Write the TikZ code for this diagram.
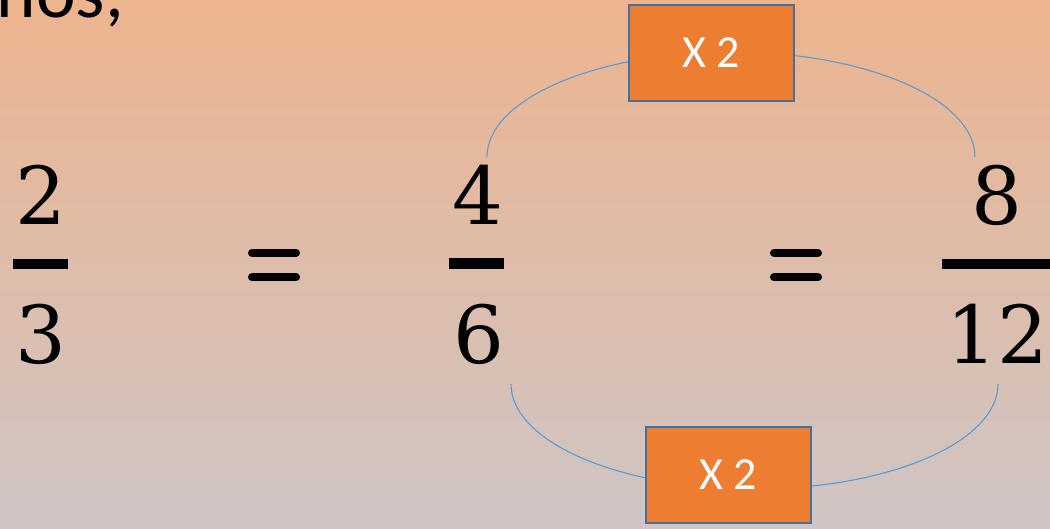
\documentclass[tikz,border=0pt]{standalone}
\usepackage{fontspec}
\newfontfamily\calib{Carlito}
\newfontfamily\numfont{DejaVu Serif}
\definecolor{bgtop}{RGB}{237,180,142}
\definecolor{bgbot}{RGB}{207,197,197}
\definecolor{boxfill}{HTML}{ED7D31}
\definecolor{boxline}{HTML}{41719C}
\definecolor{arcline}{HTML}{5B9BD5}
\tikzset{
  digit/.style={inner sep=0pt, anchor=base, font=\numfont\fontsize{80}{80}\selectfont},
  fracbar/.style={fill=black, draw=none},
  eqbar/.style={line width=8pt, line cap=round},
  timesbox/.style={draw=boxline, line width=2pt, fill=boxfill, minimum width=165pt, minimum height=96pt, inner sep=0pt, text=white, font=\calib\fontsize{46}{46}\selectfont},
  link/.style={draw=arcline, line width=1.1pt},
}
\begin{document}
\begin{tikzpicture}[x=1pt,y=-1pt]
\useasboundingbox (0,0) rectangle (1050,529);
\shade[top color=bgtop, bottom color=bgbot] (0,0) rectangle (1050,529);
% heading fragment
\node[inner sep=0pt, anchor=base east, font=\calib\fontsize{75}{75}\selectfont] (head) at (124,18) {nos,};
% fraction 2/3
\node[digit] (n1) at (41,225) {2};
\fill[fracbar] (13,259) rectangle (68,269);
\node[digit] (d1) at (41,364) {3};
% equals 1
\draw[eqbar] (252,253) -- (296,253);
\draw[eqbar] (252,277.5) -- (296,277.5);
% fraction 4/6
\node[digit] (n2) at (478,225) {4};
\fill[fracbar] (449,258) rectangle (504,269);
\node[digit] (d2) at (479,364) {6};
% equals 2
\draw[eqbar] (774,253) -- (818,253);
\draw[eqbar] (774,277.5) -- (818,277.5);
% fraction 8/12
\node[digit] (n3) at (997,225) {8};
\fill[fracbar] (942,259) rectangle (1052,269);
\node[digit] (d3) at (997.5,364) {12};
% arcs
\coordinate (a1) at (487,157);
\coordinate (a2) at (975,157);
\coordinate (b1) at (511,384);
\coordinate (b2) at (998,384);
\draw[link] (a1) arc[start angle=180, end angle=0, x radius=244pt, y radius=105pt];
\draw[link] (b1) arc[start angle=180, end angle=360, x radius=243.5pt, y radius=105pt];
% boxes
\node[timesbox] (top) at (711.5,53) {X 2};
\node[timesbox] (bot) at (728.5,475) {X 2};
\end{tikzpicture}
\end{document}
